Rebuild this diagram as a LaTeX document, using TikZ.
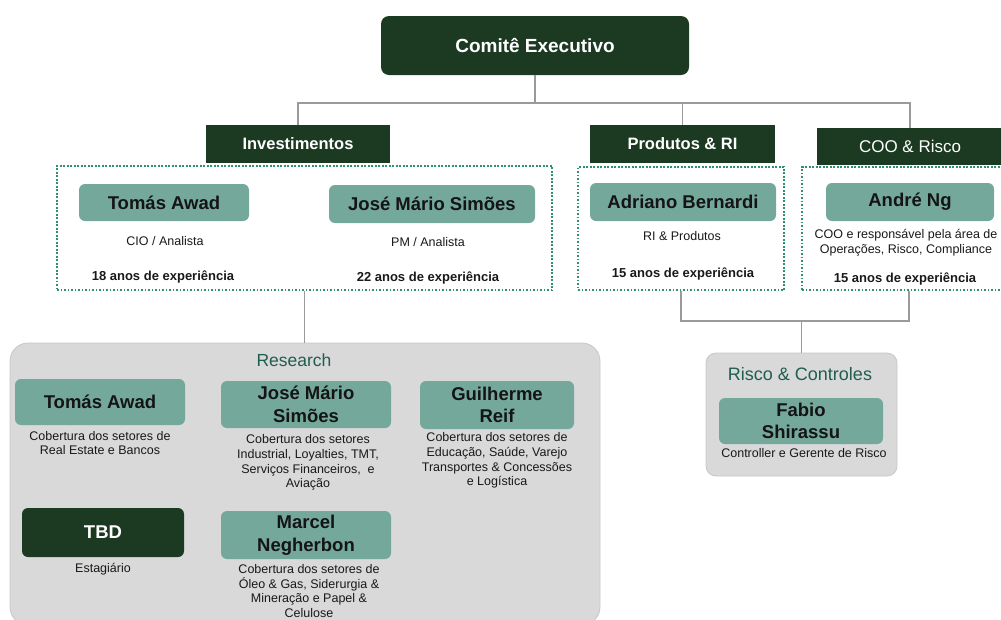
\documentclass[tikz,border=0pt]{standalone}
\usepackage{fontspec}
\setmainfont{Liberation Sans}
\usetikzlibrary{positioning}
\definecolor{dkgreen}{HTML}{1C3A22}
\definecolor{tealbox}{HTML}{74A89B}
\definecolor{dotgreen}{HTML}{2F8F70}
\definecolor{ttlgreen}{HTML}{1F5E50}
\definecolor{areagray}{HTML}{D9D9D9}
\definecolor{lngray}{HTML}{9A9A9A}
\tikzset{
  hnode/.style={rectangle,fill=dkgreen,text=white,inner sep=0pt,minimum height=38pt,font=\fontsize{16.5}{19}\selectfont\bfseries},
  cnode/.style={hnode,rounded corners=8pt,font=\fontsize{19}{22}\selectfont\bfseries},
  pnode/.style={rectangle,rounded corners=6pt,fill=tealbox,text=black!92,inner sep=0pt,align=center,font=\fontsize{18.5}{22.5}\selectfont\bfseries},
  dnode/.style={pnode,fill=dkgreen,text=white},
  grp/.style={rectangle,draw=dotgreen,line width=1.9pt,dash pattern=on 1.9pt off 1.6pt,inner sep=0pt},
  area/.style={rectangle,fill=areagray,draw=black!22,line width=0.8pt,inner sep=0pt},
  txt/.style={align=center,inner sep=0pt,text=black!90,font=\fontsize{12.5}{14.8}\selectfont},
  btxt/.style={txt,font=\fontsize{13}{15}\selectfont\bfseries},
  ttl/.style={inner sep=0pt,text=ttlgreen,font=\fontsize{17.5}{20}\selectfont},
  ln/.style={draw=lngray,line width=1.3pt}
}
\begin{document}
\begin{tikzpicture}[x=1pt,y=-1pt]
\useasboundingbox (0,0) rectangle (1001,619);
% grey areas
\node[area,rounded corners=18pt,minimum width=590pt,minimum height=282pt] (research) at (305,484) {};
\node[area,rounded corners=10pt,minimum width=191pt,minimum height=123pt] (riscobox) at (801.5,414.5) {};
% top level
\node[cnode,minimum width=308pt,minimum height=59pt] (comite) at (535,45.5) {Comitê Executivo};
\node[hnode,minimum width=184pt] (inv) at (298,144) {Investimentos};
\node[hnode,minimum width=185pt] (prod) at (682.5,144) {Produtos \& RI};
\node[hnode,minimum width=186pt,minimum height=37pt,font=\fontsize{17}{20}\selectfont] (coo) at (910,146.5) {COO \& Risco};
% dotted groups
\node[grp,minimum width=495pt,minimum height=124pt] (invgrp) at (304.5,228) {};
\node[grp,minimum width=206pt,minimum height=123pt] (prodgrp) at (681,228.5) {};
\node[grp,minimum width=214pt,minimum height=123pt] (coogrp) at (909,228.5) {};
% Investimentos
\node[pnode,minimum width=170pt,minimum height=37pt] (tomas) at (164,202.5) {Tomás Awad};
\node[txt] (tomasrole) at (165,241) {CIO / Analista};
\node[btxt] (tomasexp) at (163,277) {18 anos de experiência};
\node[pnode,minimum width=206pt,minimum height=38pt] (jose) at (432,204) {José Mário Simões};
\node[txt] (joserole) at (428,242) {PM / Analista};
\node[btxt] (joseexp) at (428,278) {22 anos de experiência};
% Produtos & RI
\node[pnode,minimum width=186pt,minimum height=38pt] (adriano) at (683,202) {Adriano Bernardi};
\node[txt] (adrianorole) at (682,236) {RI \& Produtos};
\node[btxt] (adrianoexp) at (683,274) {15 anos de experiência};
% COO & Risco
\node[pnode,minimum width=168pt,minimum height=38pt] (andre) at (910,202) {André Ng};
\node[txt] (andrerole) at (906,242.5) {COO e responsável pela área de\\Operações, Risco, Compliance};
\node[btxt] (andreexp) at (905,279) {15 anos de experiência};
% Research
\node[ttl] (restitle) at (294,360) {Research};
\node[pnode,minimum width=170pt,minimum height=46pt] (rtomas) at (100,402) {Tomás Awad};
\node[txt] (rtomastxt) at (100,443) {Cobertura dos setores de\\Real Estate e Bancos};
\node[pnode,minimum width=170pt,minimum height=47pt] (rjose) at (306,404.5) {José Mário\\Simões};
\node[txt] (rjosetxt) at (308,462.5) {Cobertura dos setores\\Industrial, Loyalties, TMT,\\Serviços Financeiros,\ \ e\\Aviação};
\node[pnode,minimum width=154pt,minimum height=48pt] (rguilherme) at (497,405) {Guilherme\\Reif};
\node[txt] (rguilhermetxt) at (497,460.5) {Cobertura dos setores de\\Educação, Saúde, Varejo\\Transportes \& Concessões\\e Logística};
\node[dnode,minimum width=162pt,minimum height=49pt] (tbd) at (103,532.5) {TBD};
\node[txt] (tbdtxt) at (103,569) {Estagiário};
\node[pnode,minimum width=170pt,minimum height=48pt] (rmarcel) at (306,535) {Marcel\\Negherbon};
\node[txt] (rmarceltxt) at (309,591) {Cobertura dos setores de\\Óleo \& Gas, Siderurgia \&\\Mineração e Papel \&\\Celulose};
% Risco & Controles
\node[ttl,font=\fontsize{18}{21}\selectfont] (riscotitle) at (800,374) {Risco \& Controles};
\node[pnode,minimum width=164pt,minimum height=46pt] (fabio) at (801,421) {Fabio\\Shirassu};
\node[txt] (fabiotxt) at (804,453) {Controller e Gerente de Risco};
% connectors
\coordinate (bus) at (535,103);
\coordinate (rbus) at (801.5,321);
\draw[ln] (comite.south) -- (bus);
\draw[ln] (bus) -| (inv.north);
\draw[ln] (bus) -| (prod.north);
\draw[ln] (bus) -| (coo.north);
\draw[ln] (invgrp.south) -- (invgrp.south |- research.north);
\draw[ln] (prodgrp.south) |- (rbus);
\draw[ln] (coogrp.south) |- (rbus);
\draw[ln] (rbus) -- (riscobox.north);
\end{tikzpicture}
\end{document}
